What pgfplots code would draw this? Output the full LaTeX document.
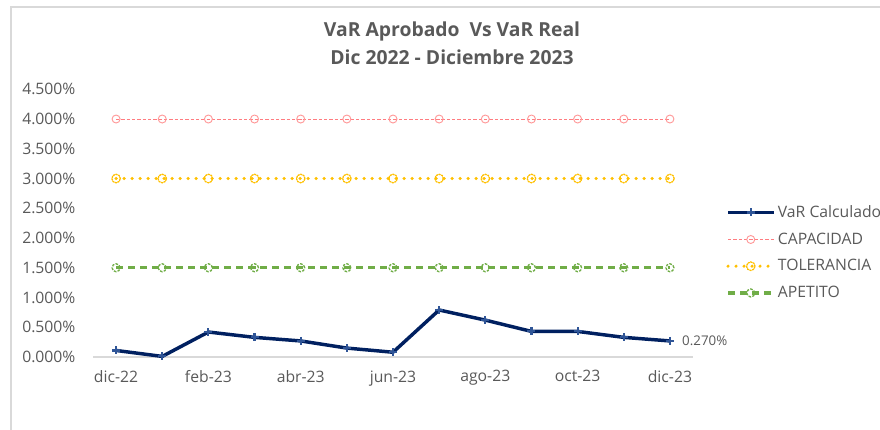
\documentclass[border=0pt]{standalone}
\usepackage{pgfplots}
\pgfplotsset{compat=1.18}
\usepackage{fontspec}
\setmainfont{Open Sans}
\definecolor{txt}{HTML}{595959}
\definecolor{navy}{HTML}{002060}
\definecolor{navymk}{HTML}{2F5597}
\definecolor{capa}{HTML}{FF7C80}
\definecolor{capamk}{HTML}{FF9999}
\definecolor{tole}{HTML}{FFC000}
\definecolor{apet}{HTML}{70AD47}
\definecolor{brd}{HTML}{D9D9D9}
\begin{document}
\begin{tikzpicture}[x=1pt,y=1pt]
\useasboundingbox (0,0) rectangle (660,321.75);
\draw[brd, line width=1.1pt] (8.25,-5) -- (8.25,316.5) -- (670,316.5);
\node[font=\fontsize{14.5}{17}\selectfont\bfseries, text=txt] at (339,298.5) {VaR Aprobado\ \ Vs VaR Real};
\node[font=\fontsize{14.5}{17}\selectfont\bfseries, text=txt] at (339,279) {Dic 2022 - Diciembre 2023};
\begin{axis}[
  at={(69.75pt,54pt)}, anchor=south west,
  scale only axis, width=450pt, height=200.8pt,
  xmin=-0.5, xmax=12.5, ymin=0, ymax=4.5,
  axis x line*=bottom, axis y line*=left,
  y axis line style={draw=none},
  x axis line style={draw=brd, line width=1.1pt, -},
  major tick length=0,
  xtick={0,2,4,6,8,10,12},
  xticklabels={dic-22,feb-23,abr-23,jun-23,ago-23,oct-23,dic-23},
  ytick={0,0.5,...,4.5},
  yticklabel={\pgfmathprintnumber[fixed,fixed zerofill,precision=3]{\tick}\%},
  /pgf/number format/assume math mode=true,
  tick label style={font=\fontsize{11.8}{14}\selectfont, text=txt},
  yticklabel style={inner sep=0pt, xshift=-13pt},
  xticklabel style={inner sep=0pt, yshift=-10pt},
  legend style={at={(1.055,0.39)}, anchor=west, draw=none, fill=none,
    font=\fontsize{11.8}{14}\selectfont, text=txt, row sep=6pt,
    inner sep=0pt},
  legend cell align=left,
  legend image code/.code={\draw[mark repeat=2,mark phase=2] plot coordinates {(0cm,0cm) (0.6cm,0cm) (1.2cm,0cm)};},
  clip=false,
]
\addplot[navy, line width=2.6pt, mark=+, mark size=3pt,
  mark options={navymk, line width=1.6pt, solid}] coordinates {
(0,0.11) (1,0.01) (2,0.42) (3,0.33) (4,0.27) (5,0.15) (6,0.08)
(7,0.79) (8,0.62) (9,0.43) (10,0.43) (11,0.33) (12,0.27)};
\addlegendentry{VaR Calculado}
\addplot[capa, line width=0.7pt, dash pattern=on 2.5pt off 1.5pt, mark=o, mark size=3pt,
  mark options={capamk, solid, line width=0.7pt}] coordinates {
(0,4) (1,4) (2,4) (3,4) (4,4) (5,4) (6,4) (7,4) (8,4) (9,4) (10,4) (11,4) (12,4)};
\addlegendentry{CAPACIDAD}
\addplot[tole, line width=2.6pt, line cap=round, dash pattern=on 0pt off 6pt, mark=o, mark size=3.2pt,
  mark options={tole, line width=1pt, dash pattern=on 1pt off 1pt}] coordinates {
(0,3) (1,3) (2,3) (3,3) (4,3) (5,3) (6,3) (7,3) (8,3) (9,3) (10,3) (11,3) (12,3)};
\addlegendentry{TOLERANCIA}
\addplot[apet, line width=2.4pt, dash pattern=on 5.5pt off 3.5pt, mark=o, mark size=3pt,
  mark options={apet, line width=1pt, dash pattern=on 2pt off 1pt}] coordinates {
(0,1.5) (1,1.5) (2,1.5) (3,1.5) (4,1.5) (5,1.5) (6,1.5) (7,1.5) (8,1.5) (9,1.5) (10,1.5) (11,1.5) (12,1.5)};
\addlegendentry{APETITO}
\node[anchor=west, font=\fontsize{10}{12}\selectfont, text=txt, inner sep=0pt, xshift=9pt] at (axis cs:12,0.27) {0.270\%};
\end{axis}
\end{tikzpicture}
\end{document}
